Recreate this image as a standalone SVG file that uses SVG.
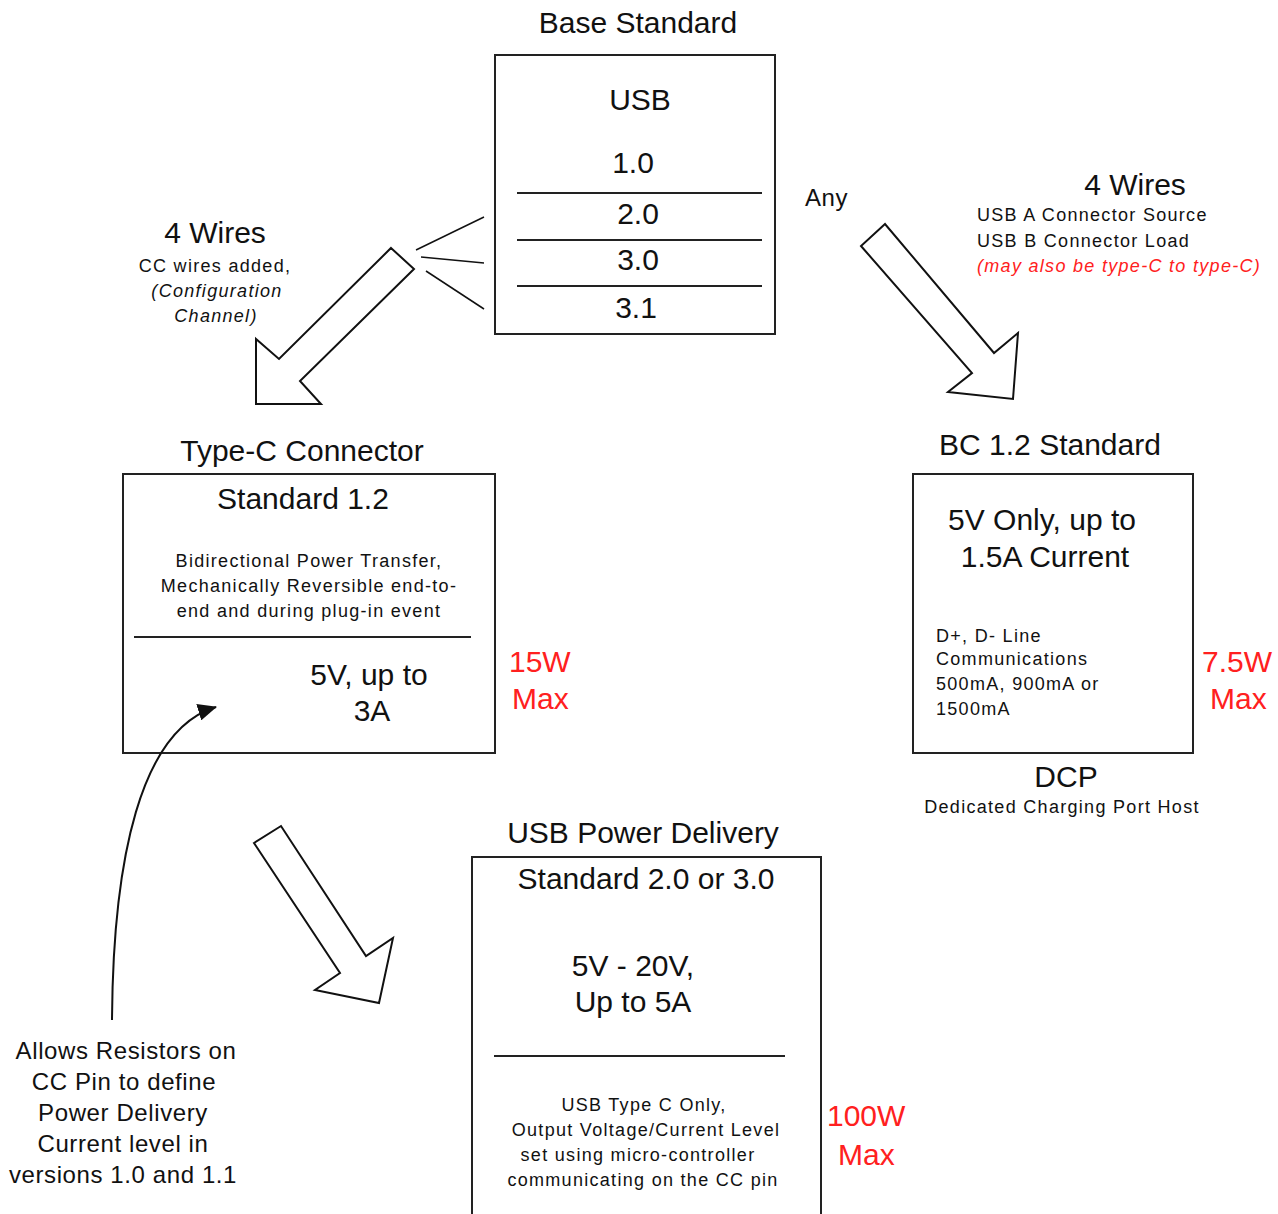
<svg xmlns="http://www.w3.org/2000/svg" width="1278" height="1214" viewBox="0 0 1278 1214">
<style>
text{font-family:"Liberation Sans",Arial,sans-serif;fill:#111}
.l{font-size:30px}
.m{font-size:24px;letter-spacing:0.6px}
.s{font-size:18px;letter-spacing:1.3px}
.c{text-anchor:middle}
.r{fill:#ff2020}
.i{font-style:italic}
.box{fill:#fff;stroke:#222;stroke-width:2}
.div{stroke:#222;stroke-width:2}
.arr{fill:#fff;stroke:#111;stroke-width:2;stroke-linejoin:miter}
.thin{stroke:#111;stroke-width:1.5;fill:none}
</style>
<defs>
<marker id="ah" viewBox="0 0 19 17" refX="18" refY="8.5" markerWidth="19" markerHeight="17" markerUnits="userSpaceOnUse" orient="auto">
<path d="M0,0 L19,8.5 L0,17 Z" fill="#111"/>
</marker>
</defs>
<rect width="1278" height="1214" fill="#fff"/>

<g id="usb">
<text class="l c" x="638" y="33">Base Standard</text>
<rect class="box" x="495" y="55" width="280" height="279"/>
<text class="l c" x="640" y="110">USB</text>
<text class="l c" x="633" y="173">1.0</text>
<line class="div" x1="517" y1="193" x2="762" y2="193"/>
<text class="l c" x="638" y="224">2.0</text>
<line class="div" x1="517" y1="240" x2="762" y2="240"/>
<text class="l c" x="638" y="270">3.0</text>
<line class="div" x1="517" y1="286" x2="762" y2="286"/>
<text class="l c" x="636" y="318">3.1</text>
</g>

<g id="label-any">
<text class="m" x="805" y="206">Any</text>
</g>

<g id="label-right-wires">
<text class="l c" x="1135" y="195">4 Wires</text>
<text class="s" x="977" y="221">USB A Connector Source</text>
<text class="s" x="977" y="247">USB B Connector Load</text>
<text class="s r i" x="977" y="272">(may also be type-C to type-C)</text>
</g>

<g id="label-left-wires">
<text class="l c" x="215" y="243">4 Wires</text>
<text class="s c" x="215" y="272">CC wires added,</text>
<text class="s c i" x="217" y="297">(Configuration</text>
<text class="s c i" x="216" y="322">Channel)</text>
</g>

<g id="typec">
<text class="l c" x="302" y="461">Type-C Connector</text>
<rect class="box" x="123" y="474" width="372" height="279"/>
<text class="l c" x="303" y="509">Standard 1.2</text>
<text class="s c" x="309" y="567">Bidirectional Power Transfer,</text>
<text class="s c" x="309" y="592">Mechanically Reversible end-to-</text>
<text class="s c" x="309" y="617">end and during plug-in event</text>
<line class="div" x1="134" y1="637" x2="471" y2="637"/>
<text class="l c" x="369" y="685">5V, up to</text>
<text class="l c" x="372" y="721">3A</text>
<text class="l r" x="509" y="672">15W</text>
<text class="l r" x="512" y="709">Max</text>
</g>

<g id="bc12">
<text class="l c" x="1050" y="455">BC 1.2 Standard</text>
<rect class="box" x="913" y="474" width="280" height="279"/>
<text class="l c" x="1042" y="530">5V Only, up to</text>
<text class="l c" x="1045" y="567">1.5A Current</text>
<text class="s" x="936" y="642">D+, D- Line</text>
<text class="s" x="936" y="665">Communications</text>
<text class="s" x="936" y="690">500mA, 900mA or</text>
<text class="s" x="936" y="715">1500mA</text>
<text class="l r" x="1202" y="672">7.5W</text>
<text class="l r" x="1210" y="709">Max</text>
<text class="l c" x="1066" y="787">DCP</text>
<text class="s c" x="1062" y="813">Dedicated Charging Port Host</text>
</g>

<g id="pd">
<text class="l c" x="643" y="843">USB Power Delivery</text>
<rect class="box" x="472" y="857" width="349" height="380"/>
<text class="l c" x="646" y="889">Standard 2.0 or 3.0</text>
<text class="l c" x="633" y="976">5V - 20V,</text>
<text class="l c" x="633" y="1012">Up to 5A</text>
<line class="div" x1="494" y1="1056" x2="785" y2="1056"/>
<text class="s c" x="644" y="1111">USB Type C Only,</text>
<text class="s c" x="646" y="1136">Output Voltage/Current Level</text>
<text class="s c" x="638" y="1161">set using micro-controller</text>
<text class="s c" x="643" y="1186">communicating on the CC pin</text>
<text class="l r" x="827" y="1126">100W</text>
<text class="l r" x="838" y="1165">Max</text>
</g>

<g id="note">
<text class="m c" x="126" y="1059">Allows Resistors on</text>
<text class="m c" x="124" y="1090">CC Pin to define</text>
<text class="m c" x="123" y="1121">Power Delivery</text>
<text class="m c" x="123" y="1152">Current level in</text>
<text class="m c" x="123" y="1183">versions 1.0 and 1.1</text>
</g>

<g id="connectors">
<line class="thin" x1="416" y1="250" x2="484" y2="217"/>
<line class="thin" x1="421" y1="257" x2="484" y2="263"/>
<line class="thin" x1="426" y1="271" x2="484" y2="309"/>
<polygon class="arr" points="391,248 414,269 300,381 321,404 256,404 256,339 279,359"/>
<polygon class="arr" points="885,224 861,246 972,373 948,392 1013,399 1018,333 994,353"/>
<polygon class="arr" points="254,843 281,826 366,956 393,938 379,1003 315,990 340,973"/>
<path class="thin" d="M112,1020 C113,860 140,730 216,707" marker-end="url(#ah)" style="stroke-width:2"/>
</g>
</svg>
